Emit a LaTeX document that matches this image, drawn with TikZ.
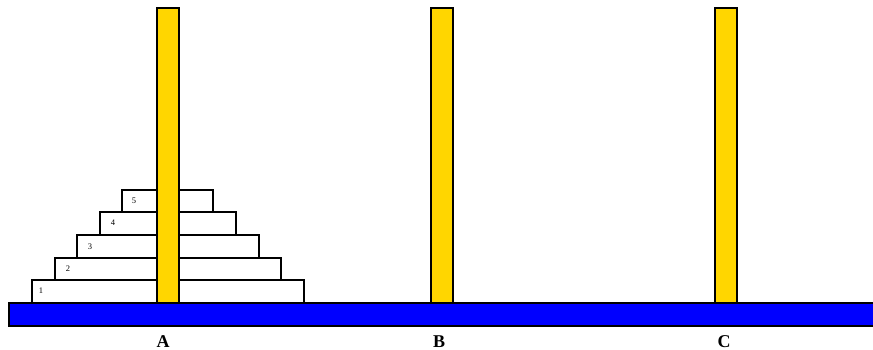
\documentclass[tikz,border=0pt]{standalone}
\usepackage{fontspec}
\setmainfont{Liberation Serif}
\definecolor{pegyellow}{RGB}{255,214,0}
\definecolor{baseblue}{RGB}{0,0,255}
\begin{document}
\begin{tikzpicture}[x=1pt,y=-1pt,
  disk/.style={draw=black,fill=white,line width=1.3pt},
  peg/.style={draw=black,fill=pegyellow,line width=1.3pt},
  basebar/.style={draw=black,fill=baseblue,line width=1.3pt},
  disklabel/.style={font=\fontsize{8.5}{8.5}\selectfont,anchor=center,inner sep=0pt},
  peglabel/.style={font=\fontsize{18}{18}\selectfont\bfseries,anchor=center,inner sep=0pt}]
\useasboundingbox (0,0) rectangle (873,350);
% disks
\draw[disk] (32,280) rectangle (304,303);
\draw[disk] (55,258) rectangle (281,280);
\draw[disk] (77,235) rectangle (259,258);
\draw[disk] (100,212) rectangle (236,235);
\draw[disk] (122,190) rectangle (213,212);
\node[disklabel] (d1) at (41,291) {1};
\node[disklabel] (d2) at (68,269) {2};
\node[disklabel] (d3) at (90,247) {3};
\node[disklabel] (d4) at (113,223) {4};
\node[disklabel] (d5) at (134,201) {5};
% pegs
\draw[peg] (157,8) rectangle (179,303);
\draw[peg] (431,8) rectangle (453,303);
\draw[peg] (715,8) rectangle (737,303);
% base
\draw[basebar] (9,303) rectangle (880,326);
% labels
\node[peglabel] (la) at (163,342) {A};
\node[peglabel] (lb) at (439,342) {B};
\node[peglabel] (lc) at (724,342) {C};
\end{tikzpicture}
\end{document}
